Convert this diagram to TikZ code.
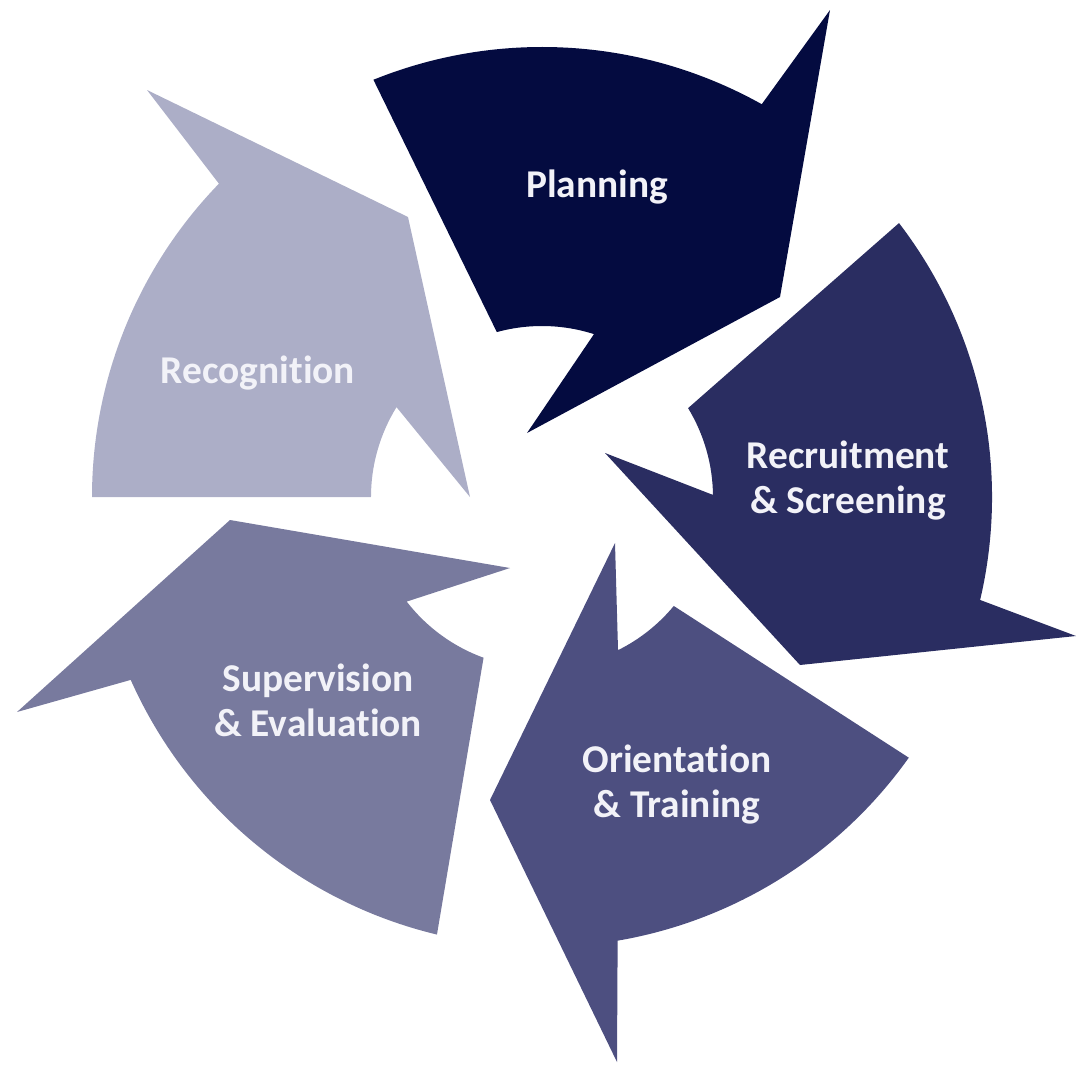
\documentclass[tikz,border=0pt]{standalone}
\usepackage{fontspec}
\setmainfont{Carlito}[Ligatures={NoCommon,NoDiscretionary,NoRare}]
\usetikzlibrary{calc}
\definecolor{planC}{HTML}{040B40}
\definecolor{recrC}{HTML}{2A2D61}
\definecolor{orieC}{HTML}{4D4F80}
\definecolor{supeC}{HTML}{787A9E}
\definecolor{recoC}{HTML}{ACAEC7}
\definecolor{textC}{HTML}{F2F2F8}
\begin{document}
\begin{tikzpicture}[x=0.01cm,y=0.01cm,yscale=-1,
  steptext/.style={text=textC, font=\fontsize{11.2}{12.8}\selectfont\bfseries,
    align=center, inner sep=0pt}]
\useasboundingbox (0,0) rectangle (1078,1066);
\coordinate (C) at (542,497);

% Planning
\fill[planC] ($(C)+(-112:450)$) arc[start angle=-112, end angle=-60.8, radius=4.5cm]
  -- (830,10) -- (780,297) -- (527,433)
  -- ($(C)+(-72.3:171)$) arc[start angle=-72.3, end angle=-105.3, radius=1.71cm] -- cycle;

% Recruitment & Screening
\fill[recrC] ($(C)+(-37.5:450)$) arc[start angle=-37.5, end angle=13.2, radius=4.5cm]
  -- (1076,636) -- (800,665) -- (605,453)
  -- ($(C)+(-0.7:171)$) arc[start angle=-0.7, end angle=-31.3, radius=1.71cm] -- cycle;

% Orientation & Training
\fill[orieC] ($(C)+(35.4:450)$) arc[start angle=35.4, end angle=80.3, radius=4.5cm]
  -- (617,1062) -- (490,800) -- (615,543)
  -- ($(C)+(63.6:171)$) arc[start angle=63.6, end angle=39.6, radius=1.71cm] -- cycle;

% Supervision & Evaluation
\fill[supeC] ($(C)+(103.5:450)$) arc[start angle=103.5, end angle=156, radius=4.5cm]
  -- (17,712) -- (230,520) -- (510,568)
  -- ($(C)+(142.3:171)$) arc[start angle=142.3, end angle=110, radius=1.71cm] -- cycle;

% Recognition
\fill[recoC] ($(C)+(180:450)$) arc[start angle=180, end angle=224.1, radius=4.5cm]
  -- (147,90) -- (408,217) -- (470,497)
  -- ($(C)+(211.7:171)$) arc[start angle=211.7, end angle=180, radius=1.71cm] -- cycle;

% Labels
\node[steptext] (planning) at (597,187) {Planning};
\node[steptext] (recruitment) at (848,481) {Recruitment\\\& Screening};
\node[steptext] (orientation) at (677,785) {Orientation\\\& Training};
\node[steptext] (supervision) at (318,700) {Supervision\\\& Evaluation};
\node[steptext] (recognition) at (258,373) {Recognition};
\end{tikzpicture}
\end{document}
